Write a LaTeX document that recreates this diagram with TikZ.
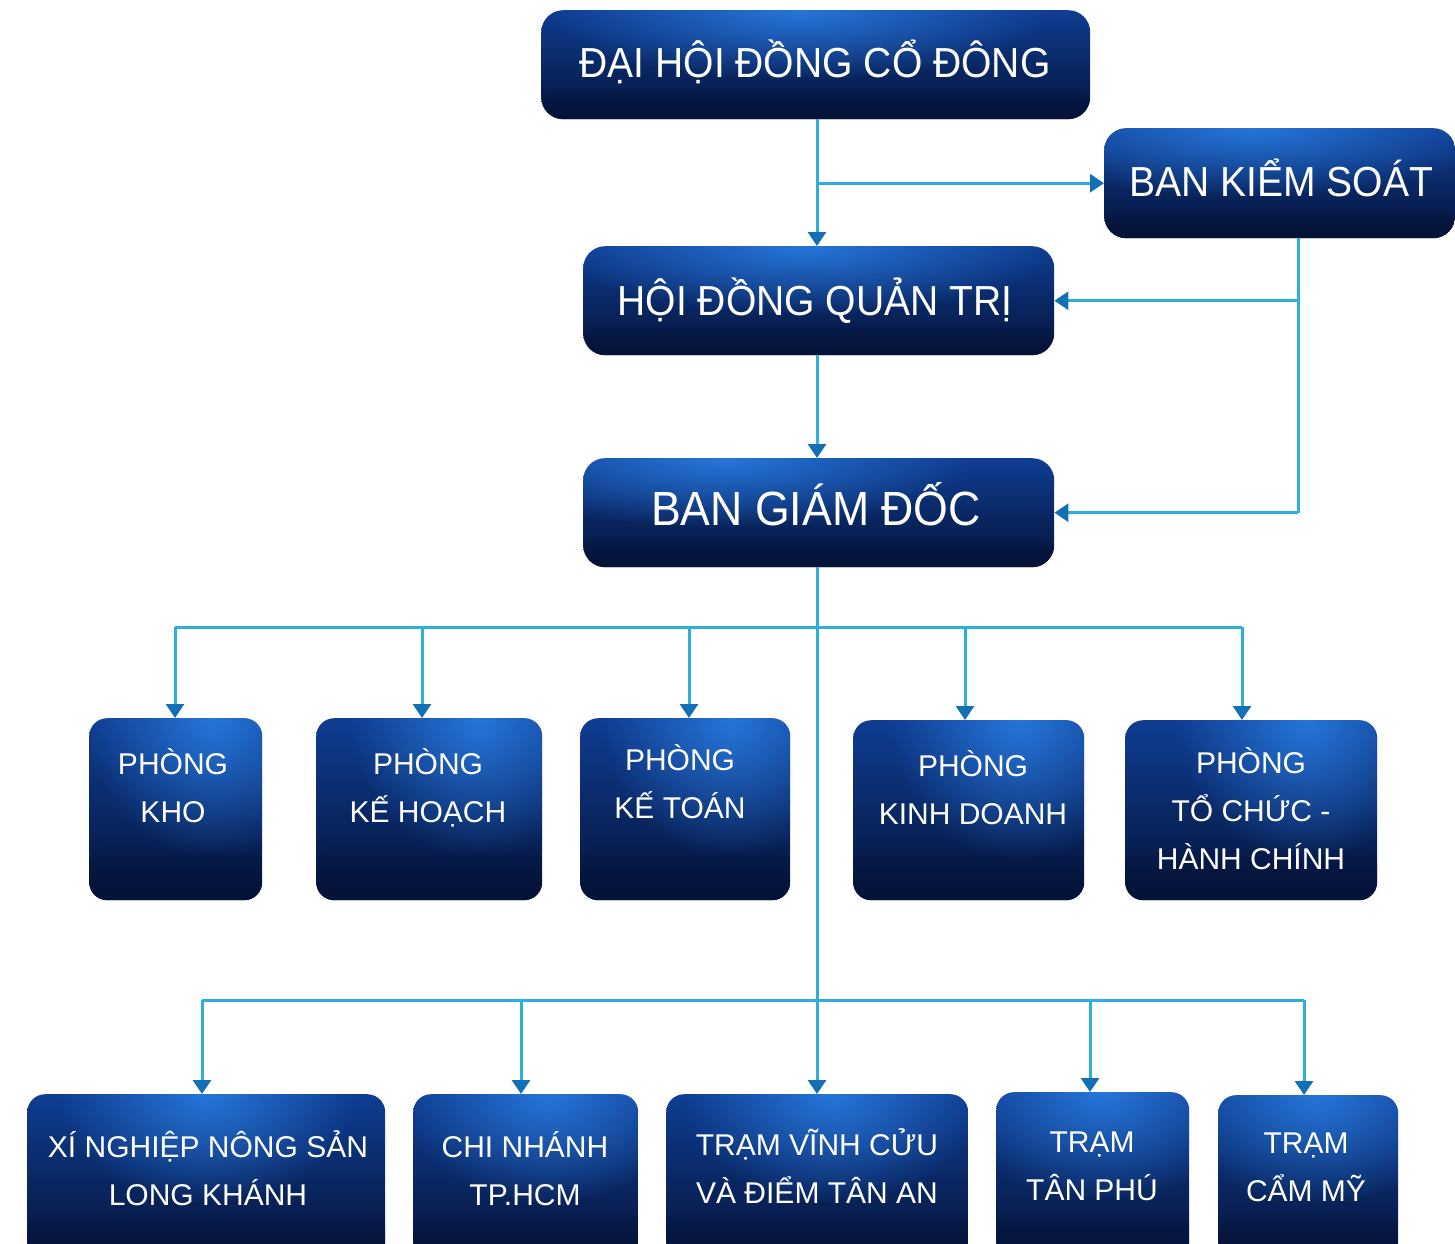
\documentclass[tikz,border=0pt]{standalone}
\usepackage{fontspec}
\setmainfont{Liberation Sans}
\newfontfamily\topfont[FakeStretch=0.93]{Liberation Sans}
\usetikzlibrary{arrows.meta,fadings,calc}

\definecolor{linec}{HTML}{2EAEDC}
\definecolor{tipc}{HTML}{1470B5}
\definecolor{boxtop}{HTML}{0F3D92}
\definecolor{boxmid}{HTML}{0D3482}
\definecolor{boxbot}{HTML}{051339}
\definecolor{glowc}{HTML}{2A7FE6}

\tikzfading[name=glowfade, inner color=transparent!15, outer color=transparent!100]
\tikzfading[name=bandfade, top color=transparent!100, bottom color=transparent!0]

\newcommand\fTop{\topfont\fontsize{42}{50}\selectfont}
\newcommand\fBgd{\topfont\fontsize{48}{56}\selectfont}
\newcommand\fRow{\fontsize{30}{48}\selectfont}

\tikzset{
  glowpos/.store in=\glowpos, glowpos=0.5,
  glowrx/.store in=\glowrx, glowrx=200pt,
  glowry/.store in=\glowry, glowry=70pt,
  box/.style={draw=none, inner sep=0pt, anchor=north west, path picture={
    \shade[top color=boxtop, middle color=boxmid, bottom color=boxbot]
      (path picture bounding box.south west) rectangle (path picture bounding box.north east);
    \fill[glowc, path fading=glowfade]
      ($(path picture bounding box.north west)!\glowpos!(path picture bounding box.north east)$)
      ellipse [x radius=\glowrx, y radius=\glowry];
    \fill[boxbot, path fading=bandfade]
      (path picture bounding box.south west) rectangle
      ($(path picture bounding box.east)!0.4!(path picture bounding box.south east)$);
  }},
  bigbox/.style={box, rounded corners=22pt, glowpos=0.47, glowrx=250pt, glowry=70pt},
  smallbox/.style={box, rounded corners=18pt, glowpos=0.72, glowrx=130pt, glowry=140pt},
  rowbox/.style={box, rounded corners=18pt, glowpos=0.55, glowrx=150pt, glowry=110pt},
  lbl/.style={text=white, align=center, inner sep=0pt,
    execute at begin node={\rule{0pt}{1em}},
    execute at end node={\rule[-0.33em]{0pt}{0.33em}}},
  wire/.style={draw=linec, line width=3pt},
  arr/.style={wire, -{Triangle[width=18pt,length=14pt,color=tipc,fill=tipc]}},
}

\begin{document}
\begin{tikzpicture}[x=1pt,y=-1pt]
\useasboundingbox (0,0) rectangle (1455,1243);
\clip (0,0) rectangle (1455,1243);

% boxes
\node[bigbox, minimum width=549pt, minimum height=109pt] (dh) at (541,10) {};
\node[bigbox, minimum width=351pt, minimum height=110pt, glowpos=0.42] (bks) at (1104,128) {};
\node[bigbox, minimum width=471pt, minimum height=109pt] (hq) at (583,246) {};
\node[bigbox, minimum width=471pt, minimum height=109pt, glowpos=0.3] (bgd) at (583,458) {};

\node[smallbox, minimum width=173pt, minimum height=182pt] (kho) at (89,718) {};
\node[smallbox, minimum width=226pt, minimum height=182pt] (kh) at (316,718) {};
\node[smallbox, minimum width=210pt, minimum height=182pt] (kt) at (580,718) {};
\node[smallbox, minimum width=231pt, minimum height=180pt] (kd) at (853,720) {};
\node[smallbox, minimum width=252pt, minimum height=180pt] (tc) at (1125,720) {};

\node[rowbox, minimum width=358pt, minimum height=165pt, glowpos=0.5] (xn) at (27,1094) {};
\node[rowbox, minimum width=225pt, minimum height=165pt, glowpos=0.6] (cn) at (413,1094) {};
\node[rowbox, minimum width=302pt, minimum height=165pt] (vc) at (666,1094) {};
\node[rowbox, minimum width=193pt, minimum height=167pt] (tp) at (996,1092) {};
\node[rowbox, minimum width=180pt, minimum height=165pt] (cm) at (1218,1095) {};

% labels
\node[lbl, font=\fTop] (tdh) at (815,63) {ĐẠI HỘI ĐỒNG CỔ ĐÔNG};
\node[lbl, font=\fTop] (tbks) at (1281,182) {BAN KIỂM SOÁT};
\node[lbl, font=\fTop] (thq) at (815,301) {HỘI ĐỒNG QUẢN TRỊ};
\node[lbl, font=\fBgd] (tbgd) at (816,509) {BAN GIÁM ĐỐC};

\node[lbl, font=\fRow] (tkho) at (173,790) {PHÒNG\\KHO};
\node[lbl, font=\fRow] (tkh) at (428,790) {PHÒNG\\KẾ HOẠCH};
\node[lbl, font=\fRow] (tkt) at (680,786) {PHÒNG\\KẾ TOÁN};
\node[lbl, font=\fRow] (tkd) at (973,792) {PHÒNG\\KINH DOANH};
\node[lbl, font=\fRow] (ttc) at (1251,813) {PHÒNG\\TỔ CHỨC -\\HÀNH CHÍNH};

\node[lbl, font=\fRow] (txn) at (208,1173) {XÍ NGHIỆP NÔNG SẢN\\LONG KHÁNH};
\node[lbl, font=\fRow] (tcn) at (525,1173) {CHI NHÁNH\\TP.HCM};
\node[lbl, font=\fRow] (tvc) at (817,1171) {TRẠM VĨNH CỬU\\VÀ ĐIỂM TÂN AN};
\node[lbl, font=\fRow] (ttp) at (1092,1171) {TRẠM\\TÂN PHÚ};
\node[lbl, font=\fRow] (tcm) at (1306,1172) {TRẠM\\CẨM MỸ};

% helper coordinates
\coordinate (spine) at (817,0);
\coordinate (bx) at (1298,0);
\coordinate (a1) at (175,627);
\coordinate (a2) at (422,627);
\coordinate (a3) at (689,627);
\coordinate (a4) at (965,627);
\coordinate (a5) at (1242,627);
\coordinate (b1) at (202,1000);
\coordinate (b2) at (521,1000);
\coordinate (b4) at (1090,1000);
\coordinate (b5) at (1304,1000);

% connectors
\draw[arr] (spine |- dh.south) -- (spine |- hq.north);
\draw[arr] (spine |- bks.west) -- (bks.west);
\draw[wire] (bx |- bks.south) -- (bx |- bgd.east);
\draw[arr] (bx |- hq.east) -- (hq.east);
\draw[arr] (bx |- bgd.east) -- (bgd.east);
\draw[arr] (spine |- hq.south) -- (spine |- bgd.north);
\draw[arr] (spine |- bgd.south) -- (spine |- vc.north);

\draw[wire] (a1) -- (a5);
\draw[arr] (a1) -- (a1 |- kho.north);
\draw[arr] (a2) -- (a2 |- kh.north);
\draw[arr] (a3) -- (a3 |- kt.north);
\draw[arr] (a4) -- (a4 |- kd.north);
\draw[arr] (a5) -- (a5 |- tc.north);

\draw[wire] (b1) -- (b5);
\draw[arr] (b1) -- (b1 |- xn.north);
\draw[arr] (b2) -- (b2 |- cn.north);
\draw[arr] (b4) -- (b4 |- tp.north);
\draw[arr] (b5) -- (b5 |- cm.north);
\end{tikzpicture}
\end{document}
